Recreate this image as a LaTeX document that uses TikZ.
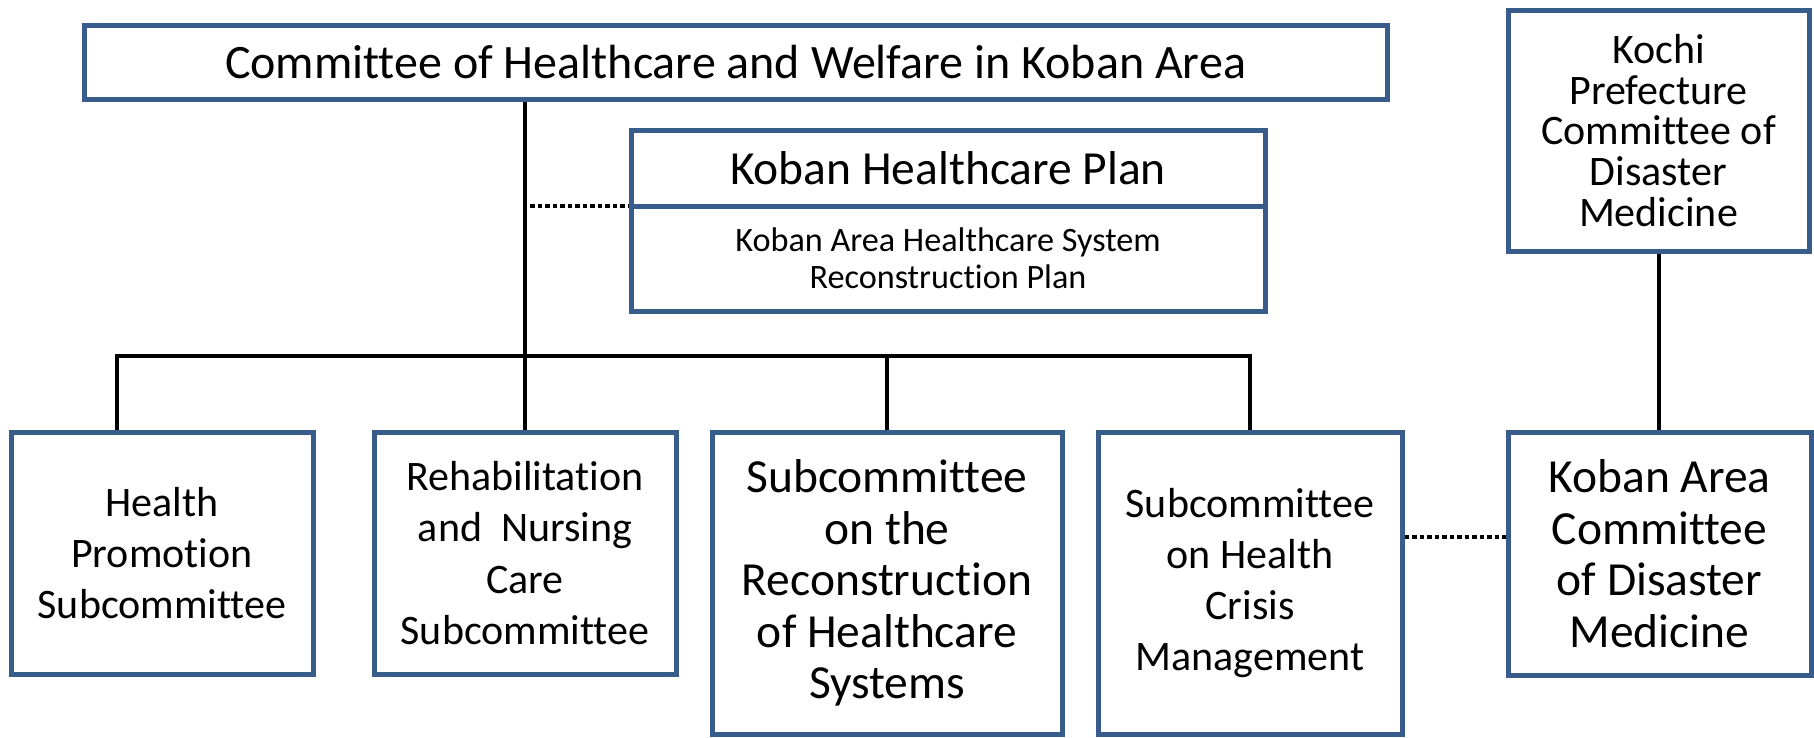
\documentclass[tikz,border=0pt]{standalone}
\usepackage{fontspec}
\setmainfont[Ligatures=CommonOff]{Carlito}
\usetikzlibrary{backgrounds}
\definecolor{boxblue}{RGB}{56,93,138}

\begin{document}
\begin{tikzpicture}[x=1pt,y=-1pt,
  box/.style={draw=boxblue, line width=5pt, inner sep=0pt, align=center},
  link/.style={line width=4pt},
  dotlink/.style={line width=4pt, dash pattern=on 4.5pt off 3pt},
  big/.style={font=\fontsize{47.5}{51.5}\selectfont},
  mid/.style={font=\fontsize{42}{51.3}\selectfont}]
\useasboundingbox (0,0) rectangle (1814,737);
\node[box, font=\fontsize{48}{52}\selectfont, minimum width=1303, minimum height=74] (top) at (735.5,62)
  {Committee of Healthcare and Welfare in Koban Area};
\node[box, font=\fontsize{42}{40.7}\selectfont, minimum width=301, minimum height=241] (kochi) at (1658.5,130.5)
  {Kochi\\Prefecture\\Committee of\\Disaster\\Medicine};
\node[box, big, minimum width=634, minimum height=76] (plantitle) at (948,168) {Koban Healthcare Plan};
\node[box, font=\fontsize{34.2}{37.3}\selectfont, minimum width=634, minimum height=105] (plansub) at (948,258.5)
  {Koban Area Healthcare System\\Reconstruction Plan};
\node[box, mid, minimum width=302, minimum height=242] (health) at (162,553)
  {Health\\Promotion\\Subcommittee};
\node[box, mid, minimum width=302, minimum height=242] (rehab) at (525,553)
  {Rehabilitation\\and\ \ Nursing\\Care\\Subcommittee};
\node[box, big, minimum width=350, minimum height=302] (recon) at (887,583)
  {Subcommittee\\on the\\Reconstruction\\of Healthcare\\Systems};
\node[box, mid, minimum width=304, minimum height=302] (crisis) at (1250,583)
  {Subcommittee\\on Health\\Crisis\\Management};
\node[box, big, minimum width=303, minimum height=243] (koban) at (1659.5,553.5)
  {Koban Area\\Committee\\of Disaster\\Medicine};
\coordinate (bar) at (117,356);
\coordinate (plandot) at (530,206);
\coordinate (crisisdot) at (1402,537);
\begin{scope}[on background layer]
\draw[link] (top.south -| rehab.north) -- (rehab.north);
\draw[link] (bar |- health.north) -- (bar) -- (bar -| crisis.north) -- (crisis.north);
\draw[link] (bar -| recon.north) -- (recon.north);
\draw[link] (kochi.south) -- (kochi.south |- koban.north);
\draw[dotlink] (plandot) -- (plandot -| plansub.west);
\draw[dotlink] (crisisdot -| crisis.east) -- (crisisdot -| koban.west);
\end{scope}
\end{tikzpicture}
\end{document}
